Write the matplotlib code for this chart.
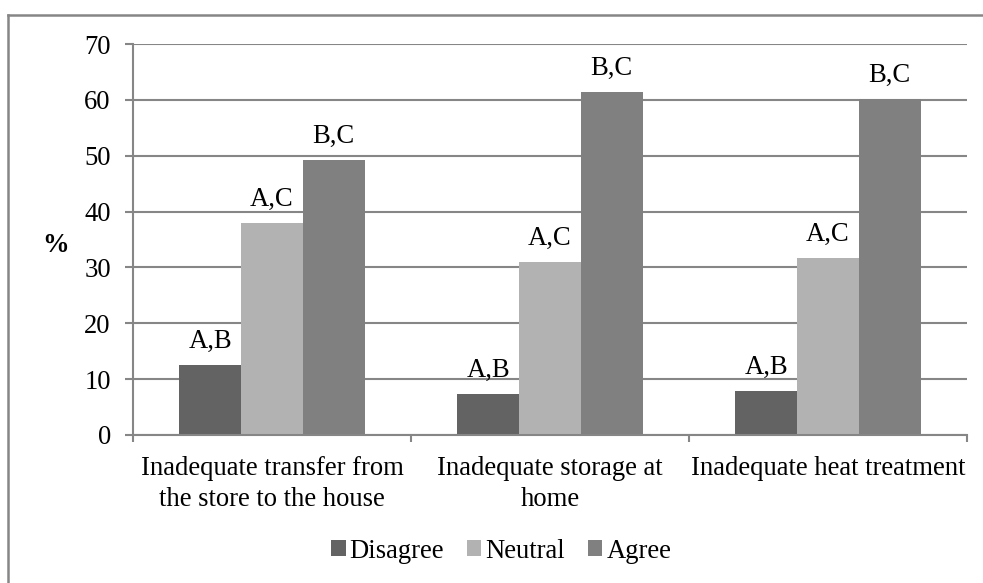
import numpy as np
import matplotlib.pyplot as plt
from matplotlib.lines import Line2D

categories = [
    "Inadequate transfer from\nthe store to the house",
    "Inadequate storage at\nhome",
    "Inadequate heat treatment",
]
series_names = ["Disagree", "Neutral", "Agree"]
disagree = [12.5, 7.3, 7.8]
neutral = [38.0, 31.0, 31.7]
agree = [49.2, 61.4, 60.2]
bar_labels = ["A,B", "A,C", "B,C"]

colors = ["#636363", "#b2b2b2", "#808080"]
grid_color = "#868686"
FS = 19.2

plt.rcParams["font.family"] = ["Liberation Serif", "DejaVu Serif"]

fig = plt.figure(figsize=(9.83, 5.83), dpi=100, facecolor="#FFFFFF")
ax = fig.add_axes([0.1353, 0.2539, 0.8484, 0.6706])

x = np.arange(len(categories))
width = 1 / 4.5
values = [disagree, neutral, agree]
handles = []
for k, (name, vals, col) in enumerate(zip(series_names, values, colors)):
    offs = (k - 1) * width
    bars = ax.bar(x + offs, vals, width=width, color=col, label=name, zorder=2)
    handles.append(bars)
    for xi, v in zip(x + offs, vals):
        ax.text(xi, v + 3.1, bar_labels[k], ha="center", va="baseline",
                fontsize=FS, color="#000000")

ax.set_xlim(-0.5, len(categories) - 0.5)
ax.set_ylim(0, 70)
ax.set_yticks(range(0, 71, 10))
ax.yaxis.grid(True, color=grid_color, linewidth=1.5, zorder=0)
ax.set_axisbelow(True)

ax.set_xticks(x)
ax.set_xticklabels(categories, fontsize=FS, linespacing=1.32)
ax.set_xticks(np.arange(-0.5, len(categories)), minor=True)
ax.tick_params(axis="x", which="major", length=0, pad=15)
ax.tick_params(axis="x", which="minor", length=5, width=1.5, color=grid_color)
ax.tick_params(axis="y", length=6, width=1.5, color=grid_color, labelsize=FS, pad=10)

for s in ["top", "right"]:
    ax.spines[s].set_visible(False)
for s in ["left", "bottom"]:
    ax.spines[s].set_color(grid_color)
    ax.spines[s].set_linewidth(1.5)

fig.text(56 / 983, 1 - 246 / 583, "%", fontsize=FS, fontweight="bold",
         ha="center", va="center")

leg = fig.legend(handles=handles, labels=series_names, loc="center",
                 bbox_to_anchor=(501 / 983, 1 - 551 / 583), ncol=3, frameon=False,
                 prop={"family": "Liberation Serif", "size": FS},
                 handlelength=0.55, handleheight=0.55,
                 handletextpad=0.15, columnspacing=0.85)

# outer chart border (left and top edges)
fig.add_artist(Line2D([8 / 983, 8 / 983], [0, 1 - 15 / 583], transform=fig.transFigure,
                      color=grid_color, linewidth=1.8))
fig.add_artist(Line2D([8 / 983, 1], [1 - 15 / 583, 1 - 15 / 583], transform=fig.transFigure,
                      color=grid_color, linewidth=1.8))

fig.savefig("out.png", dpi=100, facecolor="#FFFFFF")
